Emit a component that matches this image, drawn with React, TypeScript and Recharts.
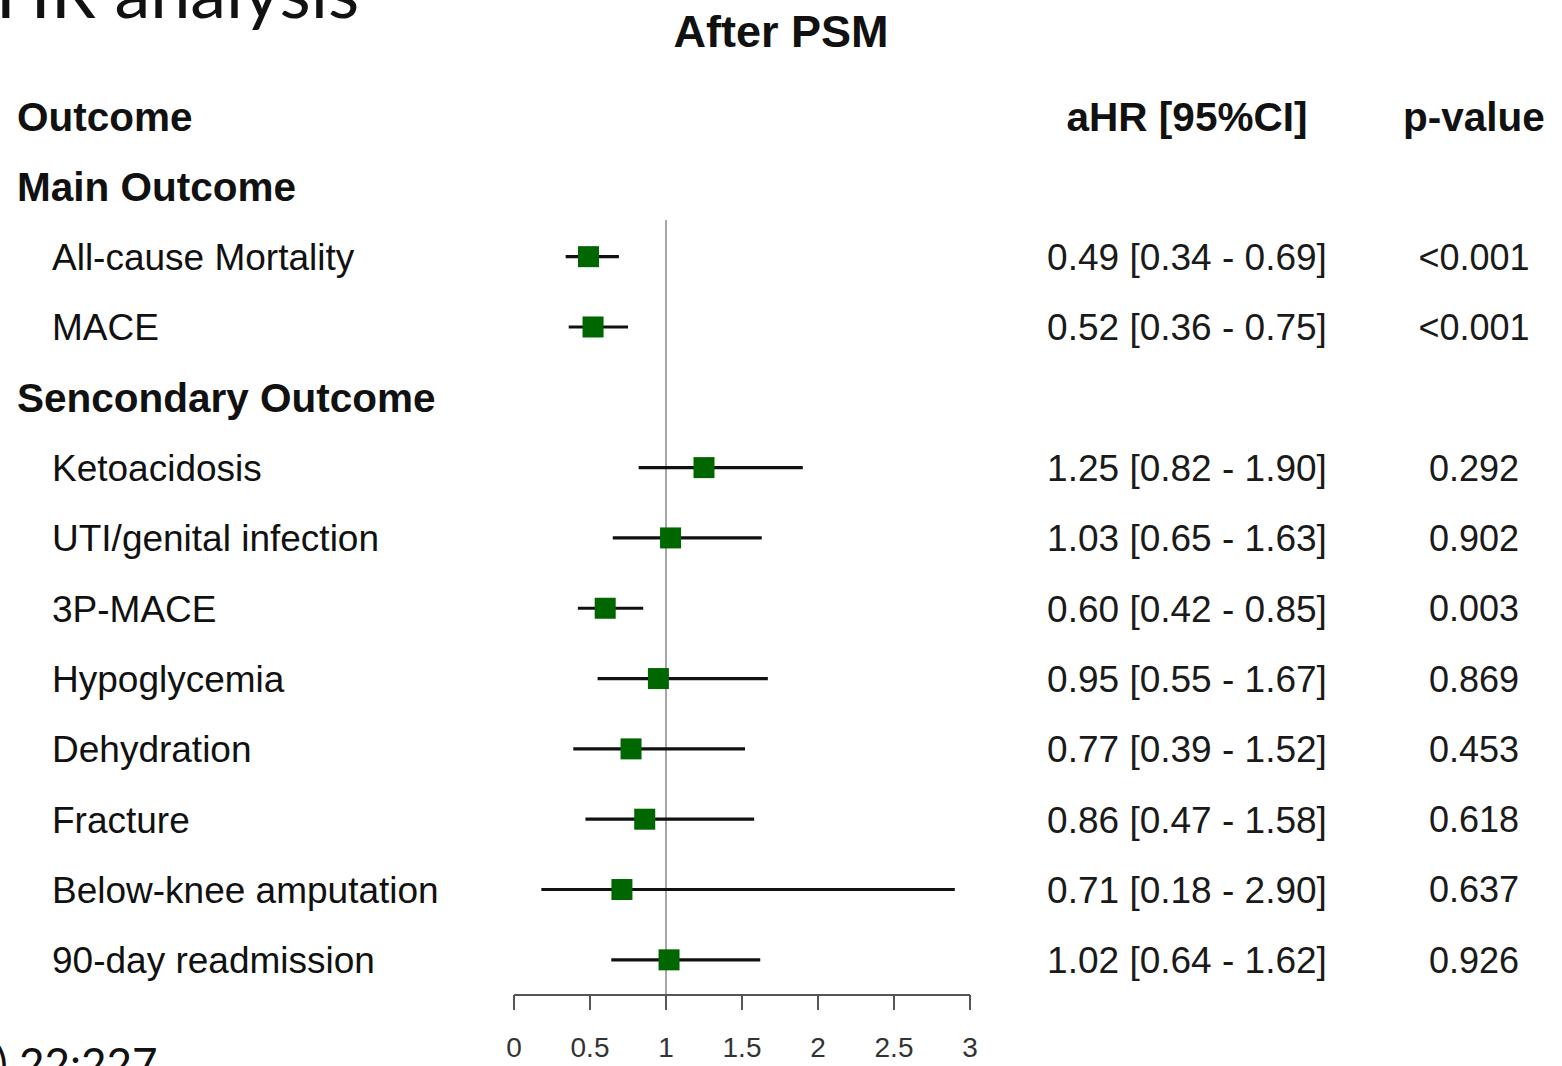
import * as React from "react";
import {
  ScatterChart,
  Scatter,
  XAxis,
  YAxis,
  ErrorBar,
  ReferenceLine,
} from "recharts";

// outcomes, grouped into sections
const groupTitles = ["Main Outcome", "Sencondary Outcome"];
const outcomeNames = [
  "All-cause Mortality",
  "MACE",
  "Ketoacidosis",
  "UTI/genital infection",
  "3P-MACE",
  "Hypoglycemia",
  "Dehydration",
  "Fracture",
  "Below-knee amputation",
  "90-day readmission",
];
const outcomeGroup = [0, 0, 1, 1, 1, 1, 1, 1, 1, 1];

// adjusted hazard ratios with 95% CI
const hazardRatios = [0.49, 0.52, 1.25, 1.03, 0.6, 0.95, 0.77, 0.86, 0.71, 1.02];
const ciLower = [0.34, 0.36, 0.82, 0.65, 0.42, 0.55, 0.39, 0.47, 0.18, 0.64];
const ciUpper = [0.69, 0.75, 1.9, 1.63, 0.85, 1.67, 1.52, 1.58, 2.9, 1.62];
const pValues = [
  "<0.001",
  "<0.001",
  "0.292",
  "0.902",
  "0.003",
  "0.869",
  "0.453",
  "0.618",
  "0.637",
  "0.926",
];

const xTicks = [0, 0.5, 1, 1.5, 2, 2.5, 3];

const W = 1562;
const H = 1066;
const FONT = "'Liberation Sans', Arial, Helvetica, sans-serif";
const GREEN = "#006600";

type Row = {
  row: number;
  kind: "header" | "group" | "item";
  label: string;
  idx?: number;
};

// row 0 holds the column headers, then each section title followed by its outcomes
const rows: Row[] = [{ row: 0, kind: "header", label: "Outcome" }];
{
  let r = 1;
  groupTitles.forEach((title, gi) => {
    rows.push({ row: r++, kind: "group", label: title });
    outcomeNames.forEach((name, i) => {
      if (outcomeGroup[i] === gi) rows.push({ row: r++, kind: "item", label: name, idx: i });
    });
  });
}
const lastRow = rows[rows.length - 1].row;
const firstItemRow = rows.find((r) => r.kind === "item")!.row;

const points = rows
  .filter((r) => r.kind === "item")
  .map((r) => {
    const i = r.idx as number;
    return {
      hr: hazardRatios[i],
      row: r.row,
      err: [hazardRatios[i] - ciLower[i], ciUpper[i] - hazardRatios[i]],
    };
  });

const rowTicks = rows.map((r) => r.row);
const rowDomain: [number, number] = [-1.65, lastRow + 0.5];

const LeftTick = (props: any) => {
  const { y, payload } = props;
  const r = rows.find((d) => d.row === payload.value);
  if (!r) return null;
  const bold = r.kind !== "item";
  return (
    <text
      x={bold ? 17 : 52}
      y={y}
      dy="0.36em"
      textAnchor="start"
      fontFamily={FONT}
      fontWeight={bold ? 700 : 400}
      fontSize={bold ? 40.5 : 37}
      fill="#111"
    >
      {r.label}
    </text>
  );
};

const RightTick = (props: any) => {
  const { y, payload } = props;
  const r = rows.find((d) => d.row === payload.value);
  if (!r || r.kind === "group") return null;
  if (r.kind === "header") {
    return (
      <g fontFamily={FONT} fontWeight={700} fontSize={40.5} fill="#111">
        <text x={1187} y={y} dy="0.36em" textAnchor="middle">
          aHR [95%CI]
        </text>
        <text x={1474} y={y} dy="0.36em" textAnchor="middle">
          p-value
        </text>
      </g>
    );
  }
  const i = r.idx as number;
  const ci = `${hazardRatios[i].toFixed(2)} [${ciLower[i].toFixed(2)} - ${ciUpper[i].toFixed(2)}]`;
  return (
    <g fontFamily={FONT} fontSize={37} fill="#1a1a1a">
      <text x={1187} y={y} dy="0.36em" textAnchor="middle">
        {ci}
      </text>
      <text x={1474} y={y} dy="0.36em" textAnchor="middle" fontSize={36}>
        {pValues[i]}
      </text>
    </g>
  );
};

const Square = (props: any) => {
  const { cx, cy } = props;
  const s = 21;
  return <rect x={cx - s / 2} y={cy - s / 2} width={s} height={s} fill={GREEN} />;
};

export default function App() {
  return (
    <div
      style={{
        position: "absolute",
        left: 0,
        top: 0,
        width: W,
        height: H,
        overflow: "hidden",
        background: "#fff",
      }}
    >
      <ScatterChart width={W} height={H} margin={{ top: 0, right: 0, bottom: 0, left: 0 }}>
        <XAxis
          dataKey="hr"
          type="number"
          domain={[0, 3]}
          ticks={xTicks}
          interval={0}
          allowDataOverflow
          height={71}
          tickSize={15}
          tickMargin={27}
          axisLine={{ stroke: "#555", strokeWidth: 2 }}
          tickLine={{ stroke: "#555", strokeWidth: 2 }}
          tick={{ fontSize: 28, fill: "#333", fontFamily: FONT }}
        />
        <YAxis
          yAxisId="rows"
          dataKey="row"
          type="number"
          domain={rowDomain}
          reversed
          allowDataOverflow
          ticks={rowTicks}
          interval={0}
          width={514}
          axisLine={false}
          tickLine={false}
          tick={(p: any) => <LeftTick {...p} />}
        />
        <YAxis
          yAxisId="stats"
          orientation="right"
          type="number"
          domain={rowDomain}
          reversed
          allowDataOverflow
          ticks={rowTicks}
          interval={0}
          width={592}
          axisLine={false}
          tickLine={false}
          tick={(p: any) => <RightTick {...p} />}
        />
        <ReferenceLine
          yAxisId="rows"
          segment={[
            { x: 1, y: firstItemRow - 0.52 },
            { x: 1, y: rowDomain[1] },
          ]}
          stroke="#8a8a8a"
          strokeWidth={1.5}
        />
        <Scatter
          yAxisId="rows"
          data={points}
          dataKey="row"
          shape={Square}
          isAnimationActive={false}
        >
          <ErrorBar
            dataKey="err"
            direction="x"
            width={0}
            stroke="#111"
            strokeWidth={3.2}
          />
        </Scatter>
      </ScatterChart>

      {/* title and the slide text around it */}
      <svg
        width={W}
        height={H}
        style={{ position: "absolute", left: 0, top: 0, pointerEvents: "none" }}
      >
        <text
          x={W / 2}
          y={47}
          textAnchor="middle"
          fontFamily={FONT}
          fontWeight={700}
          fontSize={45}
          fill="#111"
        >
          After PSM
        </text>
        <text x={-145} y={18} fontFamily="Lato, 'Open Sans', sans-serif" fontSize={72} fill="#111">
          Cox HR analysis
        </text>
        <text x={-4} y={1080} fontFamily="Lato, 'Open Sans', sans-serif" fontSize={44} fill="#111">
          ) 22:227
        </text>
      </svg>
    </div>
  );
}
